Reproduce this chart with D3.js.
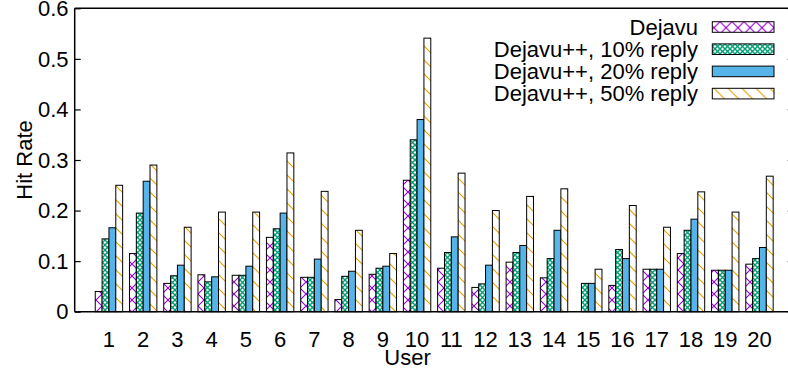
<!DOCTYPE html>
<html>
<head>
    <style>
        body { margin: 0; background: #fff; }
        svg text {
            font-family: "Liberation Sans", Arial, Helvetica, sans-serif;
            font-size: 22px;
            fill: #000;
        }
        .bar { stroke: #000; stroke-width: 1; }
    </style>
    <script src="https://d3js.org/d3.v7.min.js"></script>
</head>
<body>
    <svg width="788" height="379"></svg>
    <script>
        // values
        var users = d3.range(1, 21);
        var dejavu = [0.040, 0.115, 0.056, 0.073, 0.072, 0.147, 0.068, 0.024, 0.074, 0.260,
                      0.086, 0.048, 0.098, 0.067, 0.000, 0.052, 0.084, 0.115, 0.082, 0.094];
        var reply10 = [0.144, 0.195, 0.071, 0.059, 0.072, 0.164, 0.068, 0.070, 0.086, 0.340,
                       0.117, 0.055, 0.117, 0.105, 0.056, 0.123, 0.084, 0.161, 0.082, 0.105];
        var reply20 = [0.166, 0.258, 0.092, 0.069, 0.090, 0.195, 0.104, 0.080, 0.090, 0.380,
                       0.148, 0.092, 0.131, 0.161, 0.056, 0.105, 0.084, 0.183, 0.082, 0.127];
        var reply50 = [0.250, 0.290, 0.167, 0.197, 0.197, 0.314, 0.238, 0.161, 0.115, 0.541,
                       0.274, 0.200, 0.228, 0.243, 0.084, 0.210, 0.167, 0.237, 0.197, 0.268];
        var seriesNames = ["Dejavu", "Dejavu++, 10% reply", "Dejavu++, 20% reply", "Dejavu++, 50% reply"];
        var yTicks = [0, 0.1, 0.2, 0.3, 0.4, 0.5, 0.6];

        var series = [dejavu, reply10, reply20, reply50];
        var fills = ["url(#pat-cross)", "url(#pat-dense)", "#56b4e9", "url(#pat-back)"];

        var svg = d3.select("svg");

        var plotLeft = 74.7, plotRight = 793.7, plotTop = 8.3, plotBottom = 311.7;

        var x = d3.scaleLinear().domain([0, 21]).range([plotLeft, plotRight]);
        var y = d3.scaleLinear().domain([0, 0.6]).range([plotBottom, plotTop]);
        var bw = (x(1) - x(0)) / 5;

        // fill patterns like gnuplot's
        var defs = svg.append("defs");

        var p1 = defs.append("pattern").attr("id", "pat-cross")
            .attr("patternUnits", "userSpaceOnUse").attr("width", 12).attr("height", 12);
        p1.append("rect").attr("width", 12).attr("height", 12).attr("fill", "#fff");
        p1.append("path").attr("d", "M0,0L12,12M12,0L0,12")
            .attr("stroke", "#9400d3").attr("stroke-width", 1.1);

        var p2 = defs.append("pattern").attr("id", "pat-dense")
            .attr("patternUnits", "userSpaceOnUse").attr("width", 5).attr("height", 5);
        p2.append("rect").attr("width", 5).attr("height", 5).attr("fill", "#fff");
        p2.append("path").attr("d", "M-1,-1L6,6M6,-1L-1,6")
            .attr("stroke", "#009e73").attr("stroke-width", 1.4);

        var p4 = defs.append("pattern").attr("id", "pat-back")
            .attr("patternUnits", "userSpaceOnUse").attr("width", 14).attr("height", 14);
        p4.append("rect").attr("width", 14).attr("height", 14).attr("fill", "#fff");
        p4.append("path").attr("d", "M0,0L14,14M-7,7L7,21M7,-7L21,7")
            .attr("stroke", "#e69f00").attr("stroke-width", 1.1);

        // bars
        series.forEach(function(vals, j) {
            svg.append("g").selectAll("rect")
               .data(vals)
               .enter().append("rect")
               .attr("class", "bar")
               .attr("x", function(d, i) { return x(users[i]) - 2 * bw + j * bw; })
               .attr("y", function(d) { return y(d); })
               .attr("width", bw)
               .attr("height", function(d) { return y(0) - y(d); })
               .attr("fill", fills[j]);
        });

        // frame
        var frame = svg.append("g").attr("stroke", "#000").attr("stroke-width", 1.5).attr("fill", "none");
        frame.append("line").attr("x1", plotLeft).attr("x2", plotLeft).attr("y1", plotTop).attr("y2", plotBottom);
        frame.append("line").attr("x1", plotLeft).attr("x2", plotRight).attr("y1", plotTop).attr("y2", plotTop);
        frame.append("line").attr("x1", plotLeft).attr("x2", plotRight).attr("y1", plotBottom).attr("y2", plotBottom);
        frame.append("line").attr("x1", plotRight).attr("x2", plotRight).attr("y1", plotTop).attr("y2", plotBottom);

        // y axis, ticks pointing inward
        var yAxis = d3.axisRight(y).tickValues(yTicks).tickSize(6).tickFormat("");
        var ya = svg.append("g").attr("transform", "translate(" + plotLeft + ",0)").call(yAxis);
        ya.select(".domain").remove();
        ya.selectAll("line").attr("stroke-width", 1.2);

        var yAxisR = d3.axisLeft(y).tickValues(yTicks).tickSize(6).tickFormat("");
        var yr = svg.append("g").attr("transform", "translate(" + plotRight + ",0)").call(yAxisR);
        yr.select(".domain").remove();
        yr.selectAll("line").attr("stroke-width", 1.2);

        svg.append("g").selectAll("text")
           .data(yTicks)
           .enter().append("text")
           .attr("x", 68.5)
           .attr("y", function(d) { return y(d); })
           .attr("dy", "0.35em")
           .attr("text-anchor", "end")
           .text(function(d) { return d === 0 ? "0" : d3.format(".1f")(d); });

        // x labels
        svg.append("g").selectAll("text")
           .data(users)
           .enter().append("text")
           .attr("x", function(d) { return x(d); })
           .attr("y", 347)
           .attr("text-anchor", "middle")
           .text(function(d) { return d; });

        svg.append("text")
           .attr("x", 407.5).attr("y", 365)
           .attr("text-anchor", "middle")
           .text("User");

        svg.append("text")
           .attr("transform", "translate(31.5,160) rotate(-90)")
           .attr("text-anchor", "middle")
           .text("Hit Rate");

        // legend
        var legend = svg.append("g").selectAll("g")
            .data(seriesNames)
            .enter().append("g")
            .attr("transform", function(d, i) { return "translate(0," + (21.7 + i * 22.2) + ")"; });

        legend.append("rect")
              .attr("class", "bar")
              .attr("x", 712.3).attr("y", 0)
              .attr("width", 61.7).attr("height", 10.6)
              .attr("fill", function(d, i) { return fills[i]; });

        legend.append("text")
              .attr("x", 698).attr("y", 5.3)
              .attr("dy", "0.35em")
              .attr("text-anchor", "end")
              .text(function(d) { return d; });
    </script>
</body>
</html>
